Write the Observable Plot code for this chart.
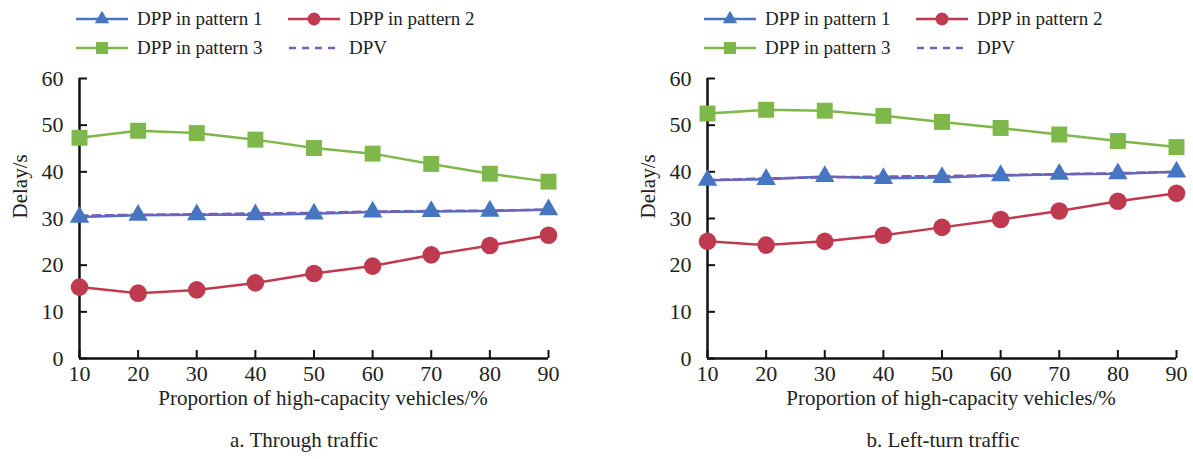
<!DOCTYPE html>
<html><head><meta charset="utf-8">
<script src="https://cdn.jsdelivr.net/npm/d3@7"></script>
<script src="https://cdn.jsdelivr.net/npm/@observablehq/plot@0.6"></script>
<style>
body{margin:0;background:#fff;font-family:"Liberation Serif","Times New Roman",Times,"DejaVu Serif",serif;color:#222}
#root{position:relative;width:1193px;height:459px;overflow:hidden;background:#fff}
.panel{position:absolute;top:0;width:596px;height:459px}
.plotwrap{position:absolute;left:0;top:62px}
.item{position:absolute;display:flex;align-items:center;font-size:19px;white-space:nowrap;height:24px}
.item svg{margin-right:9px}
.caption{position:absolute;top:428px;font-size:21px;line-height:24px;transform:translateX(-50%);white-space:nowrap}
</style></head><body><div id="root"></div>
<script>
// ---- data ----
const proportions = [10, 20, 30, 40, 50, 60, 70, 80, 90];
const yTicks = [0, 10, 20, 30, 40, 50, 60];
const seriesNames = ["DPP in pattern 1", "DPP in pattern 2", "DPP in pattern 3", "DPV"];
const panelTitles = ["a. Through traffic", "b. Left-turn traffic"];
const xLabel = "Proportion of high-capacity vehicles/%";
const yLabel = "Delay/s";

// a. Through traffic
const throughP1 = [30.3, 30.7, 30.8, 30.8, 31.0, 31.4, 31.5, 31.6, 31.9];
const throughP2 = [15.3, 14.0, 14.7, 16.2, 18.2, 19.8, 22.2, 24.2, 26.4];
const throughP3 = [47.3, 48.8, 48.3, 46.9, 45.1, 43.9, 41.7, 39.6, 37.9];
const throughDPV = [30.6, 30.8, 30.9, 31.1, 31.2, 31.5, 31.6, 31.7, 31.9];

// b. Left-turn traffic
const leftP1 = [38.2, 38.4, 39.0, 38.6, 38.8, 39.2, 39.5, 39.6, 40.0];
const leftP2 = [25.1, 24.3, 25.1, 26.4, 28.1, 29.8, 31.6, 33.7, 35.4];
const leftP3 = [52.5, 53.3, 53.1, 52.0, 50.7, 49.4, 48.0, 46.6, 45.3];
const leftDPV = [38.2, 38.6, 38.8, 39.0, 39.1, 39.3, 39.5, 39.7, 40.0];

const colors = {p1: "#4676c2", p2: "#c03a4f", p3: "#7fb84a", dpv: "#7c5cb6"};
const FONT = "'Liberation Serif', 'Times New Roman', Times, 'DejaVu Serif', serif";

function toRows(arr) { return proportions.map((x, i) => ({x, y: arr[i]})); }

function makePlot(p1, p2, p3, dpv) {
  const r1 = toRows(p1), r2 = toRows(p2), r3 = toRows(p3), rv = toRows(dpv);
  return Plot.plot({
    width: 596, height: 358,
    marginLeft: 79, marginRight: 48, marginTop: 16, marginBottom: 62,
    style: {fontFamily: FONT, fontSize: "22px", color: "#222", background: "transparent", overflow: "visible"},
    x: {domain: [10, 90]},
    y: {domain: [0, 60]},
    marks: [
      Plot.axisX({ticks: proportions, tickSize: 0, tickPadding: 7, label: null, tickFormat: d => String(d)}),
      Plot.axisY({ticks: yTicks, tickSize: 0, tickPadding: 16, label: null, tickFormat: d => String(d)}),
      Plot.tickX(proportions, {x: d => d, insetTop: 272, stroke: "#111", strokeWidth: 2}),
      Plot.tickY(yTicks, {y: d => d, insetRight: 461, stroke: "#111", strokeWidth: 2}),
      Plot.ruleX([10], {stroke: "#111", strokeWidth: 2.5}),
      Plot.ruleY([0], {stroke: "#111", strokeWidth: 2.5}),
      Plot.line(r3, {x: "x", y: "y", stroke: colors.p3, strokeWidth: 2.5}),
      Plot.line(r2, {x: "x", y: "y", stroke: colors.p2, strokeWidth: 2.5}),
      Plot.line(r1, {x: "x", y: "y", stroke: colors.p1, strokeWidth: 2.5}),
      Plot.line(rv, {x: "x", y: "y", stroke: colors.dpv, strokeWidth: 2.5, strokeDasharray: "8,5"}),
      Plot.dot(r3, {x: "x", y: "y", symbol: "square", r: 9, fill: colors.p3, stroke: "none"}),
      Plot.dot(r2, {x: "x", y: "y", symbol: "circle", r: 8.8, fill: colors.p2, stroke: "none"}),
      Plot.dot(r1, {x: "x", y: "y", symbol: "triangle", r: 7.2, fill: colors.p1, stroke: "none"}),
      Plot.text([yLabel], {text: d => d, frameAnchor: "left", rotate: -90, dx: -59, fontSize: 21, fill: "#222"}),
      Plot.text([xLabel], {text: d => d, frameAnchor: "bottom", dx: 9, dy: 46, fontSize: 21, fill: "#222"})
    ]
  });
}

function swatch(kind) {
  const ns = "http://www.w3.org/2000/svg";
  const s = document.createElementNS(ns, "svg");
  s.setAttribute("width", 52); s.setAttribute("height", 20);
  let html = "";
  if (kind === "p1") html = `<line x1="0" y1="10" x2="52" y2="10" stroke="${colors.p1}" stroke-width="2.5"/><path d="${d3.symbol(d3.symbolTriangle, 90)()}" transform="translate(26,10)" fill="${colors.p1}"/>`;
  if (kind === "p2") html = `<line x1="0" y1="10" x2="52" y2="10" stroke="${colors.p2}" stroke-width="2.5"/><circle cx="26" cy="10" r="6.5" fill="${colors.p2}"/>`;
  if (kind === "p3") html = `<line x1="0" y1="10" x2="52" y2="10" stroke="${colors.p3}" stroke-width="2.5"/><rect x="20" y="4" width="12" height="12" fill="${colors.p3}"/>`;
  if (kind === "dpv") html = `<line x1="1" y1="10" x2="52" y2="10" stroke="${colors.dpv}" stroke-width="2.5" stroke-dasharray="7,6"/>`;
  s.innerHTML = html;
  return s;
}

const root = document.getElementById("root");
const panels = [
  {left: 0, data: [throughP1, throughP2, throughP3, throughDPV], caption: 304},
  {left: 628, data: [leftP1, leftP2, leftP3, leftDPV], caption: 315}
];
const legendPos = [
  {kind: "p1", name: seriesNames[0], x: 76, y: 7},
  {kind: "p2", name: seriesNames[1], x: 288, y: 7},
  {kind: "p3", name: seriesNames[2], x: 76, y: 36},
  {kind: "dpv", name: seriesNames[3], x: 288, y: 36}
];
panels.forEach((p, i) => {
  const div = document.createElement("div");
  div.className = "panel"; div.style.left = p.left + "px";
  legendPos.forEach(l => {
    const it = document.createElement("div");
    it.className = "item"; it.style.left = l.x + "px"; it.style.top = l.y + "px";
    it.appendChild(swatch(l.kind));
    const sp = document.createElement("span"); sp.textContent = l.name;
    it.appendChild(sp);
    div.appendChild(it);
  });
  const w = document.createElement("div"); w.className = "plotwrap";
  w.appendChild(makePlot(...p.data));
  div.appendChild(w);
  const c = document.createElement("div"); c.className = "caption";
  c.style.left = p.caption + "px"; c.textContent = panelTitles[i];
  div.appendChild(c);
  root.appendChild(div);
});
</script></body></html>
